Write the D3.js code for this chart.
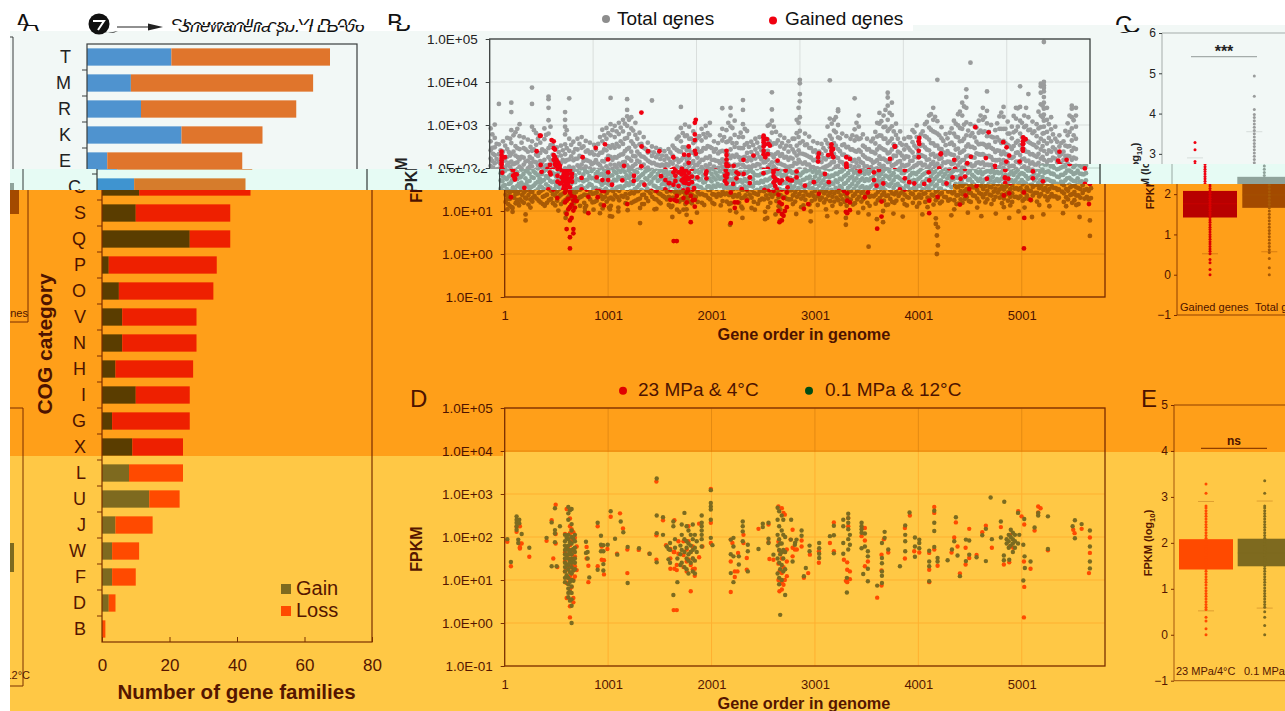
<!DOCTYPE html>
<html><head><meta charset="utf-8">
<script src="https://cdn.jsdelivr.net/npm/d3@7"></script>
<style>
html,body{margin:0;padding:0;background:#fff}
svg{display:block;font-family:"Liberation Sans",Arial,sans-serif}
</style></head><body><svg id="page" width="1285" height="711"></svg>
<script>
/* ---------- panel A ---------- */
const cogCategories=["T","M","R","K","E","C","S","Q","P","O","V","N","H","I","G","X","L","U","J","W","F","D","B"];
const cogGain=[25,13,16,28,6,11,10,26,2,5,6,6,4,10,3,9,8,14,4,3,3,2,0];
const cogLoss=[47,54,46,24,40,33,28,12,32,28,22,22,23,16,23,15,16,9,11,8,7,2,1];
const famTicks=[0,20,40,60,80];
/* ---------- panels B, D : rows are [gene order, log10(FPKM)*100 ...] ---------- */
const fpkmTicks=[1e5,1e4,1e3,1e2,1e1,1,0.1];
const geneTicks=[1,1001,2001,3001,4001,5001];
const totalRows=[
[10,292,262,241,222,205,188,171,152,138,121],[50,301,270,248,230,211,193,177,160,143,128,112],[90,349,255,232,214,198,180,163,146,131],[130,262,238,219,202,187,172,155,141,118],
[170,270,244,226,207,190,174,158,137,122],[210,352,330,288,258,233,215,196,180,166,148,129],[250,283,251,229,211,194,176,161,145,127,108],[290,302,274,244,220,203,187,170,153,135],
[330,271,246,224,208,192,177,159,142,124],[370,266,238,217,199,183,168,150,133,116],[410,387,349,296,262,240,222,204,186,170,155,138,119],[450,281,254,231,213,196,181,162,147,128],
[490,259,235,216,201,185,170,154,136,113],[530,292,267,240,219,202,186,168,151,134],[570,366,360,340,311,280,246,225,207,190,174,156,141,122],[610,253,231,214,198,182,165,150,131],
[650,248,226,208,193,179,161,147,129,110],[690,252,229,211,195,178,162,144,126],[730,330,312,296,278,255,232,215,199,183,167,150,132,112],[770,362,268,240,220,203,189,172,155,138,119],
[810,261,236,218,201,185,169,153,137],[850,268,243,222,206,190,173,157,140,120],[890,272,247,226,208,193,176,160,143,124],[930,263,238,219,203,186,171,154,136,115],
[970,259,234,215,199,184,168,150,133],[1010,254,231,212,196,181,165,148,129,108],[1050,256,230,210,195,179,163,146,127],[1090,289,262,236,216,199,183,167,150,132],
[1130,293,268,241,221,204,188,171,154,135],[1170,363,302,276,247,226,208,191,175,157,139,118],[1210,298,272,247,225,207,191,174,158,140],[1250,305,279,250,228,210,194,177,160,141,122],
[1290,312,285,256,232,213,197,180,163,146,127],[1330,360,335,320,298,270,244,224,206,190,173,155,137,116],[1370,318,292,262,238,217,200,183,167,149,130],[1410,305,277,250,227,209,192,176,159,141],
[1450,282,255,232,214,197,181,164,147,128],[1490,272,247,226,208,192,176,159,141,122],[1530,259,236,217,201,186,170,152,135],[1570,357,250,228,211,195,179,162,145,127],
[1610,247,225,208,193,178,161,146,128,109],[1650,243,221,205,190,175,158,143,125],[1690,239,219,204,189,173,156,141,122],[1730,244,222,206,191,176,160,144,126,103],
[1770,252,229,210,194,179,163,147,130],[1810,268,242,221,204,188,172,155,138,118],[1850,342,293,262,238,218,201,185,169,151,133],[1890,301,274,248,226,208,191,175,158,139],
[1930,296,268,244,223,205,189,172,156,137,114],[1970,285,258,235,216,199,183,166,149,130],[2010,269,245,224,207,190,174,157,139,119],[2050,291,264,239,219,202,186,169,152,133],
[2090,298,271,245,224,206,189,173,156,136,113],[2130,305,276,249,227,209,192,175,158,139],[2170,262,238,219,203,187,171,154,137,116],[2210,258,234,216,200,184,168,151,133],
[2250,339,291,264,240,220,203,187,170,153,134],[2290,288,260,236,217,200,184,167,150,130,110],[2330,340,322,297,268,243,223,205,189,172,155,136],[2370,310,277,249,226,208,191,174,157,138],
[2410,272,247,225,208,192,176,159,142,121],[2450,358,335,302,272,246,224,207,190,174,157,138,117],[2490,286,258,235,216,199,183,166,149,129],[2530,261,237,218,202,186,170,153,136],
[2570,268,243,222,205,189,173,156,139,119],[2610,272,248,226,208,192,175,158,140],[2650,254,231,213,197,182,166,149,132,111],[2690,298,266,240,219,202,186,169,152,133],
[2730,376,336,310,282,254,231,213,197,181,164,147,128],[2770,284,257,233,215,198,182,165,148,127],[2810,276,250,228,210,193,177,160,143,122],[2850,270,245,224,206,190,174,157,139],
[2890,262,238,219,202,186,170,153,135,113],[2930,268,243,222,205,189,172,156,138],[2970,312,281,252,229,210,193,177,160,142,123],[3000,405,397,372,355,318,286,258,234,214,197,180,164,146,127],
[3050,280,253,231,213,196,180,163,146,126],[3090,273,247,226,208,192,175,159,141,120],[3130,262,238,218,202,187,171,154,136],[3170,258,234,216,199,183,167,150,133,112],
[3210,256,232,214,198,182,166,149,131],[3250,265,240,220,203,187,171,154,136,116],[3290,404,315,275,248,226,208,191,175,158,140,121],[3330,312,287,258,233,214,197,180,163,146,127],
[3370,336,332,300,271,244,223,205,188,171,154,135,115],[3410,280,253,231,213,196,180,163,146,127],[3450,274,248,227,209,192,176,159,142,122],[3490,268,243,222,205,188,172,155,138],
[3530,362,290,264,240,219,202,186,170,152,133,112],[3570,322,296,267,242,221,204,187,171,153,134],[3610,278,252,230,211,195,178,162,144,125],[3650,268,243,222,204,188,171,155,137],
[3690,262,238,218,202,186,170,153,135,114],[3730,284,257,234,215,198,182,165,148,128],[3770,328,303,276,250,227,209,192,175,158,139,119],[3810,322,295,268,243,222,205,188,171,154,135],
[3850,375,364,345,312,286,258,234,214,197,180,163,146,126],[3890,352,323,297,268,243,222,205,188,171,153,133,113],[3930,303,277,250,228,210,193,176,159,141],[3970,285,258,235,216,199,183,166,149,130],
[4010,268,243,222,204,188,172,155,138,118],[4050,272,247,226,208,191,175,158,140],[4090,288,260,236,217,200,184,167,150,131,109],[4130,299,272,246,225,207,190,174,157,138],
[4170,278,252,230,212,195,179,162,145,125],[4210,302,274,248,226,208,191,175,158,139,118],[4250,322,294,266,241,220,203,186,170,152,133],[4290,340,312,285,257,233,214,197,180,163,145,124],
[4330,405,309,280,252,229,210,193,176,160,141],[4370,295,269,244,223,205,189,172,155,136,116],[4410,279,253,231,212,196,179,163,146,127],[4450,282,256,233,214,197,181,164,147,128],
[4490,310,280,253,230,211,194,178,161,143,123],[4530,325,299,271,245,224,206,189,172,155,136],[4570,352,322,291,263,238,218,201,184,167,149,129,108],[4610,383,365,340,306,276,250,227,209,192,175,158,139],
[4650,445,302,275,249,227,209,192,175,158,140,120],[4690,298,271,246,224,206,190,173,156,138],[4730,310,282,255,232,213,196,179,163,145,126],[4770,340,312,283,256,232,213,196,179,162,143],
[4810,378,333,304,274,248,226,208,191,174,157,138,118],[4850,300,273,247,225,207,190,174,157,139],[4890,288,261,237,218,200,184,168,151,133,113],[4930,320,291,264,240,219,202,185,169,152,133],
[4970,342,319,291,263,238,218,200,184,167,150,130],[5010,308,280,254,231,212,195,178,162,144,124],[5050,296,269,244,223,205,188,172,155,136],[5090,340,315,287,259,235,215,198,181,164,146,125],
[5130,390,342,310,280,253,230,211,194,177,160,142],[5170,322,295,268,243,222,204,187,171,153,134,114],[5210,372,318,288,261,237,217,200,183,166,149],[5250,308,281,255,232,213,196,179,162,145,125],
[5290,302,274,248,226,208,191,174,158,139],[5330,396,390,375,348,322,295,268,243,222,204,187,170,153,134],[5360,493,400,392,386,378,365,352,338,324,310,296,281,263,240,219,201,185,168,150,131],[5390,340,312,284,257,233,214,197,180,163,145],
[5430,318,290,262,238,218,201,184,168,151,132,111],[5470,296,268,243,222,204,188,171,155,137],[5510,276,250,228,210,194,177,161,144,125],[5550,262,238,219,202,186,170,153,136,116],
[5590,304,276,250,228,210,193,176,160,142],[5630,345,338,318,292,264,240,219,202,186,169,151,133],[5670,340,322,296,268,244,222,205,188,171,153,130]
];
const totalRowsFill=[
[27,278,247,216,194,169,147,128,104],[34,233,201,180,158,134,116],[68,256,221,197,174,151,133,109],[107,241,208,184,165,139,118],[118,195,171,148,126],[151,252,217,199,176,149,127],[186,237,212,181,163,143,119],[199,268,229,203,178,155,131],[231,276,238,209,186,160,137,115],[268,291,246,213,192,168,144,122],[274,225,198,157,131],[309,259,226,199,179,156,129],[348,243,215,188,164,146,120],[388,226,203,176,157,135,112],[396,249,211,187,166],[429,288,243,215,193,172,151,125],[468,268,228,206,177,158,139,118],[508,243,212,189,167,145,124],[546,277,237,206,180,159,138,116],[589,296,253,219,194,169,148,126],[627,226,203,172,155,136,107],[668,237,214,186,158,139,118],[708,241,219,192,171,149,128],[746,288,246,218,196,174,153,134],[789,254,227,199,177,158,137,112],[828,244,221,193,172,146,127],
[869,256,228,202,181,163,141,121],[908,250,216,198,177,152,133],[948,241,217,191,170,149,128,106],[988,237,209,186,161,142,122],[1028,243,218,188,173,152,131,112],[1068,272,235,206,182,160,137],[1108,276,243,215,192,173,147,125],[1148,281,251,228,197,179,156,133],[1188,288,253,219,198,177,151,130],[1228,285,256,224,202,183,165,143,119],[1268,294,262,231,205,186,167,146,124],[1308,303,268,239,214,193,172,151,129],[1348,312,279,247,222,201,178,160,138,116],[1388,287,256,228,205,186,166,147,123],[1428,268,238,217,195,173,152,133],[1468,256,227,205,186,168,146,127,105],[1508,244,222,198,179,157,139,118],[1548,238,214,193,173,153,132],[1588,236,212,187,170,151,133,114],[1628,231,207,185,167,149,131],[1668,229,208,183,165,144,124,103],[1708,228,209,186,167,148,127],[1748,236,214,187,171,152,136,116],[1788,246,219,197,178,158,141,122],[1828,273,239,214,194,176,154,134],[1868,281,248,223,199,180,161,143,121],
[1908,276,241,217,197,178,159,140,119],[1948,268,236,211,192,174,155,136],[1988,262,230,207,185,168,149,127],[2028,274,237,213,195,176,157,138,116],[2068,279,246,219,197,178,159,140],[2108,281,251,223,201,182,163,144,123],[2148,246,219,198,178,160,141,122],[2188,244,217,196,176,158,139,118],[2228,276,238,211,192,174,156,137],[2268,272,239,214,195,176,158,139,119],[2308,305,262,231,209,188,169,150,131],[2348,293,258,229,204,185,166,147,127],[2388,258,231,206,188,169,150,131,107],[2428,282,246,218,197,178,159,140],[2468,291,254,226,203,184,165,146,125],[2508,249,224,203,183,165,146,127],[2548,253,228,206,186,167,148,129,109],[2588,259,234,209,190,171,152,133],[2628,241,220,198,178,160,142,123],[2668,268,238,214,193,174,156,137,115],[2708,301,262,232,207,188,169,151,132],[2748,296,257,225,204,184,167,148,127],
[2788,264,236,211,191,172,153,136,116],[2828,258,232,208,189,170,151,133],[2868,252,226,203,184,166,147,129,109],[2908,251,224,204,183,164,145,126],[2948,268,236,212,192,173,154,136,115],[2988,340,305,272,241,219,196,176,155,135],[3028,262,233,210,191,172,153,134,114],[3068,255,229,208,188,169,150,131],[3108,246,224,202,183,165,146,127,104],[3148,241,219,199,179,161,142,123],[3188,238,218,197,178,160,141,122],[3228,246,223,201,182,163,144,125],[3268,296,257,226,205,186,167,148,127],[3308,303,268,237,213,192,173,154,133,112],[3348,318,283,252,225,203,183,165,146,126],[3388,269,239,215,196,177,158,139,118],[3428,255,231,208,189,171,152,133],[3468,249,226,205,185,166,147,128,107],[3508,276,243,216,195,176,158,139,119],[3548,305,273,238,212,193,174,155,135],[3588,269,238,214,194,176,157,138,117],[3628,249,226,204,186,168,149,130],
[3668,244,221,199,180,162,143,124],[3708,268,237,212,192,174,155,136,115],[3748,305,273,243,218,199,180,161,141,121],[3788,309,275,246,221,202,183,164,144,124],[3828,335,296,268,241,218,198,179,160,141],[3868,328,291,262,236,214,195,176,157,138,116],[3908,285,255,229,207,188,169,150,131],[3948,268,238,214,195,176,157,139,119],[3988,254,229,207,188,170,151,132,110],[4028,253,227,206,186,168,149,131],[4068,271,241,216,196,178,159,141,121],[4108,283,252,226,205,187,168,149,129],[4148,261,233,211,191,173,154,136,115],[4188,285,254,228,206,187,168,149,130],[4228,307,271,243,219,199,180,161,142,122],[4268,325,289,258,231,209,190,171,152,132],[4308,319,283,252,226,205,186,167,147,127],[4348,276,245,221,201,182,163,144,125,104],[4388,263,236,213,193,174,156,137,117],[4428,269,239,215,195,177,158,139,119],[4468,292,259,231,209,189,170,151,132],[4508,303,273,243,219,199,180,161,142,121],
[4548,331,293,262,235,213,193,174,155,135],[4588,343,301,268,241,219,199,180,161,142,122],[4628,287,255,229,208,189,170,151,132],[4668,281,249,225,204,185,166,147,127],[4708,294,261,234,212,192,174,155,136,116],[4748,322,287,256,231,210,190,171,152,133],[4788,318,285,254,229,207,188,169,150,131],[4828,284,254,228,207,188,169,150,129,109],[4868,271,244,219,199,181,162,143,124],[4908,304,271,241,218,198,179,160,141,121],[4948,329,291,258,232,210,191,172,153,133],[4988,291,258,232,210,190,171,153,134],[5028,280,250,224,204,185,166,147,128,108],[5068,321,283,251,226,205,186,167,148,128],[5108,339,296,263,236,214,194,175,156,136],[5148,305,271,243,220,199,180,161,142,122],[5188,340,298,265,238,216,196,177,158,139],[5228,289,258,232,210,191,172,153,134],[5268,285,253,229,208,189,170,151,132,111],[5308,331,292,259,233,212,192,173,154,134],[5348,345,318,280,251,226,206,187,168,149,129],[5408,302,270,241,218,198,179,160,141,121],[5448,278,248,224,203,184,166,147,127],[5488,261,236,214,194,176,158,139,119],[5528,258,232,211,191,173,155,136,114],[5568,286,252,228,207,188,169,151,131],[5608,322,284,251,227,206,187,168,149,129],[5648,311,276,247,224,204,185,166,147,127]
];
const totalLow=[
[77,107,98],[140,113],[203,92,78],[520,101],[590,96,84],[777,99,107],[860,103],[922,95],[1019,88,104],[1040,87],[1100,99,108],[1190,102],[1310,72,107],[1450,104],[1622,86,112],[1690,98],[1760,91,104],[1860,96],[2180,68,101],[2240,97],[2300,84,106],[2420,103],[2519,81,98],[2540,84],[2620,92],[2665,78,104],[2820,93],[2960,76,99],[3120,88],[3210,97],[3300,84,68],[3420,96],[3520,17,92],[3600,81],[3660,74,100],[3760,94],[3850,87],[4040,92],[4170,70,83],[4180,0,43],[4190,20,62],[4320,90],[4480,96],[4610,88],[4750,94],[4880,84],[4970,99],[5100,86],[5210,92],[5400,95],[5560,86],[5660,42,78]
];
const redRows=[
[26,189],[61,132],[116,212,223],[148,225,185,176,173],[165,185],[239,154],[406,191],[455,239],[471,150],[494,275,207,185],[510,130],
[584,207,164,143,120],[600,265,124,93,58],[616,196,172,150,128,104],[632,243,225,209,181,143,109,78,39,13],[648,218,190,160,135,115,84],[665,211,169,124,101,58,48],[680,198,155,132,108],[697,178,123],
[793,177,150],[810,133,95],[900,225,132],[939,147,178],[961,113,146],[994,172],[1026,247],[1087,161],[1116,255],[1145,220],[1187,171,116],[1297,170],[1400,161],[1468,329,204,147],[1532,239],[1561,181],
[1603,150,126,172],[1635,30,165],[1642,239,165,126],[1665,135,123,30],[1681,190,161],[1730,158,130,190],[1761,171,143,120],[1777,225,190,148],[1800,74,165,135],[1820,178,150,125],[1839,110,126],[1881,153,231],[1913,178],[1994,312,233,186],
[2187,72,194,143],[2203,186],[2226,107,120],[2252,120],[2258,163],[2310,205,186],[2342,151,124],[2455,219],[2552,229,188],[2561,149],[2600,147],
[2648,271,189,138,100],[2658,74,168,120],[2681,267,116,93,78,150],[2697,256,89,130],[2710,252,100,165],[2729,171,143,109],[2765,194],[2785,217,175,155],[2807,171],[2826,171],[2872,192,178],[2894,105],[2936,116],[2952,159],
[3039,140,167],[3146,186],[3184,234,167],[3281,147],[3300,98],[3313,141,124,95],[3323,244,225],[3339,102,120],[3452,202],[3484,221,192,132],[3513,143],[3603,59],[3645,159,122,87],[3668,195],[3710,164],
[3871,150,221],[3919,250],[3961,167],[4010,164],[4106,124,95,163],[4155,270,256,171],[4187,133],[4322,164],[4348,199],[4364,234],[4380,178],[4403,115],[4458,175,136],[4493,219,151],[4564,158],[4619,211],[4654,226],[4712,175],
[4799,223],[4828,136],[4880,141],[4887,205,178],[4919,175],[4967,260],[4999,248],[5022,13,143],[5025,229,84],[5086,126],[5125,215],[5160,271,257],[5183,267],[5254,169],[5499,217],[5512,209],[5580,219],[5651,116],[5660,199,163]
];
const redExtraB=[
[116,238,230,218,208,200],[130,195,182],[486,275,190],[560,198,182,168],[600,195,178,166],[620,262,246,230,219,186,170,158],[640,205,192,180,172,165,152],[660,198,186,176,162],[680,205,195,172],[700,186,168],[1050,190,172],[1300,205,182],[1470,250],[1700,196,182,170],[1760,195,185],[1780,198,188,176,166],[1800,194,182,172],[1830,189,175,163],[1860,198,180,167],[1925,250,230,212],[1985,305,278,265,240],[2000,192,176],[2180,182,170],[2195,178,164],[2291,240,230,220,210,205,190,176],[2360,205,186],[2420,178,165],[2650,275,265,260,250,240,232,195,180,166],[2665,255,225,176,158],[2690,232,198,172],[3177,225,215],[3274,230],[3306,255,248,240,232],[3450,225,210,205],[3620,190,172],[3918,250,195,176],[4150,262,240,225,190],[4362,232],[4500,198,180],[4697,295],[4826,283],[4890,195,176,165],[4997,215],[5157,262,255,245,240,192,176],[5511,238]
];
const oliveRows=[
[26,195],[61,142],[116,248,240,233,225,217],[132,194,186],[142,240,232],[165,207],[239,175],[406,198],[455,234,132],[487,267,216,208,188],[503,132],[535,225],
[584,205,190,180,170,160,150,140,130,120,105,95],[600,198,176,158,137,111],[616,270,255,240,205,195,180,170,160,150,135,125,105,90,80,70,60],[632,262,188,164,143,118,96,72,52],[648,265,230,215,200,185,170,160,150,140,130,115,100,85,70,55,40,0],[665,196,172,148,122,98],[680,205,190,175,165,150,140,125],
[787,189,163],[803,165,150],[819,106],[900,233,124],[932,203,182,167],[955,181,167,137,122],[997,182],[1026,260],[1068,196],[1090,159],[1123,236],[1148,211],[1190,177,93],[1300,174],[1403,161],[1471,336,250,209,141],[1532,246,205],
[1568,178],[1585,172,148],[1600,186,170,140],[1632,236,225,65],[1648,195,175],[1671,95,150],[1700,180,160,135],[1713,229,205,170,140],[1739,256,195,165,130],[1760,225,190,175,150,125],[1778,215,185,160,145,115],[1800,205,180,165,140],[1820,229,195,170,150,120],[1840,205,175,145,115],[1858,190,165],
[1906,250,233,225,215,205,195,178],[1994,309,279,271,264,240,198],[2010,181],[2187,194,160,116],[2213,198,178,155,95],[2265,155,136],[2303,236,225,213,190],[2352,182,167,120],[2455,172],[2497,231,223],[2552,233,196,186],[2600,159],
[2640,268,240,205,180,150,115],[2655,260,225,195,170,140,105,90],[2665,19,185,160,125],[2680,250,215,185,165,135,100],[2695,240,205,170,150,120],[2713,65,200,165,125],[2771,240],[2768,194],[2807,182],[2823,194],[2785,143],[2810,187],[2872,215,203],[2894,109],[2913,128],[2949,180,167],
[3042,186,174,161,151],[3146,202],[3184,226,204,162],[3275,240,225,186,161],[3310,71,105],[3323,254,244,233,218,195,171],[3339,205,182],[3452,233,225,218,210,174],[3468,114],[3484,208,178],[3513,167,155,126,97],[3603,87],[3649,186,151,139,120,110,93],[3675,212,198],[3710,171],[3823,132],
[3874,227,205,190,167],[3916,257],[3968,199,178,154],[4010,194,186,174],[4106,168,143,132,97],[4155,261,233,214,177],[4187,151,143],[4284,146],[4326,171],[4348,190],[4364,246],[4380,157],[4403,109],[4461,194,144],[4493,192,159],[4564,153],[4619,204],[4654,219,144],[4712,195],[4700,292],
[4832,282],[4799,236,199],[4828,146,157],[4880,147],[4855,195,185],[4875,205,190,175],[4895,217,200,180],[4915,210,195,185,165],[4935,205,190,175],[4965,256,185],[4977,205],[5025,242],[5016,182,99],[5028,155],[5031,128],[5086,143],[5125,222],[5160,250,256],[5254,172,248],[5493,225],[5515,239,197],[5580,230],[5660,215,178,143,127]
];
/* ---------- panels C, E : log10(FPKM) ---------- */
const cGainedDots=[0,.13,.3,.38,.52,.58,.64,.7,.76,.82,.88,.94,1,1.06,1.12,1.18,1.24,1.3,1.36,1.42,1.48,1.54,1.6,1.66,1.72,1.78,1.84,1.9,1.96,2.02,2.08,2.14,2.2,2.26,2.32,2.38,2.44,2.5,2.56,2.62,2.68,2.74,2.81,3.1,3.28];
const cTotalDots=[0,.17,.4,.55,.62,.7,.78,.86,.94,1.02,1.1,1.18,1.26,1.34,1.42,1.5,1.58,1.66,1.74,1.82,1.9,1.98,2.06,2.14,2.22,2.3,2.38,2.46,2.54,2.62,2.7,2.78,2.86,2.94,3.02,3.1,3.18,3.26,3.34,3.42,3.5,3.58,3.66,3.74,3.82,3.9,3.98,4.1,4.43,4.93];
const eHighDots=[0,.13,.3,.38,.55,.6,.66,.72,.78,.84,.9,.96,1.02,1.08,1.14,1.2,1.26,1.32,1.38,1.44,1.5,1.56,1.62,1.68,1.74,1.8,1.86,1.92,1.98,2.04,2.1,2.16,2.22,2.28,2.34,2.4,2.46,2.52,2.58,2.64,2.7,2.76,2.8,3.08,3.28];
const eLowDots=[0,.2,.38,.5,.6,.66,.72,.78,.84,.9,.96,1.02,1.08,1.14,1.2,1.26,1.32,1.38,1.44,1.5,1.56,1.62,1.68,1.74,1.8,1.86,1.92,1.98,2.04,2.1,2.16,2.22,2.28,2.34,2.4,2.46,2.52,2.58,2.64,2.7,2.76,2.8,3.08,3.35];
const cBoxGained=[.52,1.42,1.76,2.08,2.9], cBoxTotal=[.57,1.66,1.98,2.43,3.55];
const eBoxHigh=[.52,1.42,1.76,2.08,2.9], eBoxLow=[.58,1.49,1.78,2.09,2.91];

const svg=d3.select("#page");
const palettes={
 white:{bg:"#ffffff",ink:"#111111",axis:"#333333",axisSoft:"#888888",grid:"#dddddd",gain:"#4f93cf",loss:"#e0752c",grey:"#8d8d8d",red:"#f00010",redBox:"#c00",greyBox:"#8fa39b",serA:"#e00000",serB:"#004d14"},
 pale:{bg:"#f2f8f6",ink:"#222222",axis:"#3a3f3e",axisSoft:"#a5acaa",grid:"#d9dedc",gain:"#4f93cf",loss:"#e0752c",grey:"#9a9c9c",red:"#f00010",redBox:"#c00",greyBox:"#8fa39b",serA:"#e00000",serB:"#004d14"},
 mint:{bg:"#e6fbf4",ink:"#222222",axis:"#333b38",axisSoft:"#98a8a2",grid:"#b9cfc6",gain:"#3f94d0",loss:"#d67c2c",grey:"#8fa39b",red:"#f00010",redBox:"#c00",greyBox:"#8fa39b",serA:"#e00000",serB:"#004d14"},
 orange:{bg:"#ff9f19",ink:"#4d1300",axis:"#7a2c00",axisSoft:"#8f3f00",grid:"#e48a12",gain:"#5a3d00",loss:"#ee2000",grey:"#a85a05",red:"#dc0000",redBox:"#b80000",greyBox:"#a34a00",serA:"#e00000",serB:"#004d14"},
 yellow:{bg:"#ffc845",ink:"#551600",axis:"#7a3000",axisSoft:"#a5560c",grid:"#ffb030",gain:"#7e6a1f",loss:"#ff4a00",grey:"#a85a05",red:"#ff4a00",redBox:"#b80000",greyBox:"#a34a00",serA:"#ff4a00",serB:"#7b6b20"}
};
const cssVars=p=>Object.entries(p).map(([k,v])=>`--${k}:${v}`).join(";");
const bandEdges=[[[913,31],[1285,25]],[[1040,169],[1285,164]],[[953,190],[1285,184]],[[503,456],[1285,452]]];
const stepLine=e=>{const pts=[];let x0=10;e.forEach(([x,y])=>{pts.push([x0,y],[x,y]);x0=x;});return pts;};
const flatEdge=y=>[[1285,y]];
const glitchBottom=[[1145,32],[1285,25]];
const stripDefs=[
 {id:"yellow",top:bandEdges[3],bottom:flatEdge(711),dx:0},
 {id:"orange",top:bandEdges[2],bottom:bandEdges[3],dx:0},
 {id:"mint",top:bandEdges[1],bottom:bandEdges[2],dx:-5},
 {id:"pale",top:bandEdges[0],bottom:bandEdges[1],contentTop:glitchBottom,dx:-15},
 {id:"white",top:flatEdge(0),bottom:bandEdges[0],contentBottom:flatEdge(25),dx:-15}
];
const defs=svg.append("defs");
const addClip=(id,top,bottom)=>defs.append("clipPath").attr("id",id).append("polygon").attr("points",stepLine(top).concat(stepLine(bottom).reverse()).join(" "));
stripDefs.forEach(s=>{
  addClip("clip-"+s.id,s.top,s.bottom);
  addClip("content-"+s.id,s.contentTop||s.top,s.contentBottom||s.bottom);
});
addClip("content-glitch",flatEdge(25),glitchBottom);

/* background bands */
stripDefs.forEach(s=>{
  svg.append("rect").attr("x",0).attr("y",0).attr("width",1285).attr("height",711)
   .attr("clip-path",`url(#clip-${s.id})`).style("fill",palettes[s.id].bg);
});

/* the chart itself, in the coordinates of the lowest strips */
const wrap=svg.append("g").attr("clip-path","url(#content-yellow)").attr("style",cssVars(palettes.yellow));
const chart=wrap.append("g").attr("id","chart");

const label=(t,x,y,size,o={})=>{
  const n=chart.append("text").attr("x",x).attr("y",y).attr("font-size",size).style("fill","var(--ink)")
    .attr("font-weight",o.bold?"bold":"normal").attr("font-style",o.italic?"italic":"normal").attr("text-anchor",o.anchor||"start");
  if(o.rot!==undefined)n.attr("transform",`rotate(${o.rot} ${x} ${y})`);
  if(o.sub){n.append("tspan").text(t);n.append("tspan").attr("font-size",size*.7).attr("dy",size*.25).text(o.sub);n.append("tspan").attr("dy",-size*.25).text(o.after);}
  else n.text(t);
  return n;
};
const styleAxis=(g,fs)=>{
  g.style("color","var(--ink)").attr("font-family","inherit").attr("font-size",fs);
  g.selectAll("path").remove();
  g.selectAll("line").style("stroke","var(--axis)");
};

/* ---- left remnants of the neighbouring figure ---- */
[[0,37,28,37],[28,37,28,322],[0,322,28,322],[0,408,23,408],[23,408,23,686],[0,686,23,686]].forEach(l=>
  chart.append("line").attr("x1",l[0]).attr("y1",l[1]).attr("x2",l[2]).attr("y2",l[3]).style("stroke","var(--axis)"));
chart.append("rect").attr("x",0).attr("y",183).attr("width",19).attr("height",31).style("fill","var(--greyBox)");
chart.append("rect").attr("x",0).attr("y",543).attr("width",14).attr("height",29).style("fill","var(--gain)");
label("genes",28,317,11,{anchor:"end"});
label("12°C",30,679,11,{anchor:"end"});

/* ---- panel A ---- */
const ax=d3.scaleLinear().domain([0,80]).range([102,372]);
const ay=d3.scaleBand().domain(cogCategories).range([44,642]).paddingInner(.335).paddingOuter(.1675);
const rowEdges=cogCategories.slice(1).map(c=>ay(c)-ay.step()*.1675);
chart.append("g").selectAll("line").data(rowEdges).join("line").attr("x1",97).attr("x2",102).attr("y1",d=>d).attr("y2",d=>d).style("stroke","var(--axis)");
const rows=cogCategories.map((c,i)=>({c,g:cogGain[i],l:cogLoss[i]}));
chart.append("g").selectAll("rect").data(rows).join("rect").attr("x",ax(0)).attr("y",d=>ay(d.c)).attr("height",ay.bandwidth())
  .attr("width",d=>ax(d.g)-ax(0)).style("fill","var(--gain)");
chart.append("g").selectAll("rect").data(rows).join("rect").attr("x",d=>ax(d.g)).attr("y",d=>ay(d.c)).attr("height",ay.bandwidth())
  .attr("width",d=>ax(d.g+d.l)-ax(d.g)).style("fill","var(--loss)");
chart.append("rect").attr("x",102).attr("y",44).attr("width",270).attr("height",598).style("fill","none").style("stroke","var(--axis)").style("stroke-width",1.2);
chart.append("g").attr("transform","translate(102,0)").call(d3.axisLeft(ay).tickSize(0).tickPadding(16)).call(g=>styleAxis(g,18));
chart.append("g").attr("transform","translate(0,642)").call(d3.axisBottom(ax).tickValues(famTicks).tickSize(-5).tickPadding(17)).call(g=>styleAxis(g,17));
label("COG category",52,344,21,{bold:true,anchor:"middle",rot:-90});
label("Number of gene families",236.5,699,20.5,{bold:true,anchor:"middle"});
[["Gain","var(--gain)",584],["Loss","var(--loss)",606]].forEach(([t,c,y],i)=>{
  chart.append("rect").attr("x",281).attr("y",y).attr("width",10).attr("height",10).style("fill",c);
  label(t,296,i?617:595,20);
});

/* ---- panels B and D ---- */
const gx=d3.scaleLinear().domain([1,5806]).range([504.7,1105]);
const logFmt=d=>{const e=Math.round(Math.log10(d));return "1.0E"+(e<0?"-":"+")+String(Math.abs(e)).padStart(2,"0");};
const flat=rows=>rows.flatMap(r=>r.slice(1).map(v=>({g:r[0],v})));
function scatterFrame(top,bottom){
  const y=d3.scaleLog().domain([.1,1e5]).range([bottom,top]);
  const g=chart.append("g");
  g.selectAll("line.h").data(fpkmTicks).join("line").attr("class","h").attr("x1",504.7).attr("x2",1105).attr("y1",y).attr("y2",y).style("stroke","var(--grid)");
  g.selectAll("line.v").data(geneTicks.slice(1)).join("line").attr("class","v").attr("y1",top).attr("y2",bottom).attr("x1",gx).attr("x2",gx).style("stroke","var(--grid)");
  return y;
}
function scatterAxes(y,top,bottom){
  chart.append("rect").attr("x",504.7).attr("y",top).attr("width",600.3).attr("height",bottom-top).style("fill","none").style("stroke","var(--axis)").style("stroke-width",1.3);
  chart.append("g").attr("transform","translate(504.7,0)").call(d3.axisLeft(y).tickValues(fpkmTicks).tickFormat(logFmt).tickSize(4).tickPadding(8)).call(g=>styleAxis(g,13.5));
  chart.append("g").attr("transform",`translate(0,${bottom})`).call(d3.axisBottom(gx).tickValues(geneTicks).tickFormat(d3.format("d")).tickSize(0).tickPadding(14)).call(g=>styleAxis(g,13));
  label("FPKM",422,(top+bottom)/2+12,16,{bold:true,anchor:"middle",rot:-90});
  label("Gene order in genome",804,bottom+43,16.3,{bold:true,anchor:"middle"});
}
const val=v=>Math.pow(10,v/100);
const byB=scatterFrame(39,297);
chart.append("g").selectAll("circle").data(flat(totalRows).concat(flat(totalRowsFill),flat(totalLow))).join("circle").attr("cx",d=>gx(d.g)).attr("cy",d=>byB(val(d.v))).attr("r",2.4).style("fill","var(--grey)");
chart.append("g").selectAll("circle").data(flat(redRows).concat(flat(redExtraB))).join("circle").attr("cx",d=>gx(d.g)).attr("cy",d=>byB(val(d.v))).attr("r",2.4).style("fill","var(--red)");
scatterAxes(byB,39,297);
const byD=scatterFrame(408,666);
chart.append("g").selectAll("circle").data(flat(redRows)).join("circle").attr("cx",d=>gx(d.g)).attr("cy",d=>byD(val(d.v))).attr("r",2.2).style("fill","var(--serA)");
chart.append("g").selectAll("circle").data(flat(oliveRows)).join("circle").attr("cx",d=>gx(d.g)).attr("cy",d=>byD(val(d.v))).attr("r",2.2).style("fill","var(--serB)");
scatterAxes(byD,408,666);
chart.append("circle").attr("cx",621).attr("cy",19).attr("r",4).style("fill","var(--grey)");
label("Total genes",632,25,19);
chart.append("circle").attr("cx",788).attr("cy",20.5).attr("r",4).style("fill","var(--red)");
label("Gained genes",800,25,19);
chart.append("circle").attr("cx",623).attr("cy",390.7).attr("r",4).style("fill","var(--serA)");
label("23 MPa & 4°C",638,396,19);
chart.append("circle").attr("cx",809).attr("cy",390.7).attr("r",4).style("fill","var(--serB)");
label("0.1 MPa & 12°C",825,396,19);

/* ---- panels C and E ---- */
function boxPanel(y,frameX,series,title,titleY,lineY,lineX1,lineX2,axisLabelX,axisLabelY){
  const top=y(y.domain()[1]),bottom=y(y.domain()[0]);
  chart.append("path").attr("d",`M1320,${top}H${frameX}V${bottom}H1320`).style("fill","none").style("stroke","var(--axisSoft)");
  chart.append("g").attr("transform",`translate(${frameX},0)`).call(d3.axisLeft(y).ticks(7).tickFormat(d3.format("d")).tickSize(3).tickPadding(3)).call(g=>styleAxis(g,12));
  series.forEach(s=>{
    const [lo,q1,med,q3,hi]=s.box, w=54;
    const g=chart.append("g");
    g.append("rect").attr("x",s.cx-w/2).attr("y",y(q3)).attr("width",w).attr("height",y(q1)-y(q3)).style("fill",s.boxFill);
    g.append("line").attr("x1",s.cx-w/2).attr("x2",s.cx+w/2).attr("y1",y(med)).attr("y2",y(med)).style("stroke",s.dotFill).style("opacity",.45);
    [lo,hi].forEach(v=>g.append("line").attr("x1",s.cx-8).attr("x2",s.cx+8).attr("y1",y(v)).attr("y2",y(v)).style("stroke","var(--axisSoft)").style("opacity",.35));
    g.selectAll("circle").data(s.dots).join("circle").attr("cx",s.cx).attr("cy",y).attr("r",1.5).style("fill",s.dotFill);
    label(s.name,s.tx,s.ty,11);
  });
  chart.append("line").attr("x1",lineX1).attr("x2",lineX2).attr("y1",lineY).attr("y2",lineY).style("stroke","var(--axisSoft)").style("stroke-width",1.3);
  label(title,(lineX1+lineX2)/2,titleY,title==="ns"?12:16,{bold:true,anchor:"middle"});
  label("FPKM (log",axisLabelX,axisLabelY,11,{bold:true,anchor:"middle",rot:-90,sub:"10",after:")"});
}
const cy=d3.scaleLinear().domain([-1,6]).range([315,33]);
boxPanel(cy,1177,[
 {name:"Gained genes",cx:1210,box:cBoxGained,dots:cGainedDots,boxFill:"var(--redBox)",dotFill:"var(--red)",tx:1180,ty:311},
 {name:"Total genes",cx:1269.3,box:cBoxTotal,dots:cTotalDots,boxFill:"var(--greyBox)",dotFill:"var(--grey)",tx:1255,ty:311}
],"***",57,56.7,1206,1272,1154,176);
const ey=d3.scaleLinear().domain([-1,5]).range([680.7,405]);
boxPanel(ey,1174,[
 {name:"23 MPa/4°C",cx:1206,box:eBoxHigh,dots:eHighDots,boxFill:"var(--loss)",dotFill:"var(--loss)",tx:1176,ty:675},
 {name:"0.1 MPa/12°C",cx:1264.7,box:eBoxLow,dots:eLowDots,boxFill:"var(--gain)",dotFill:"var(--gain)",tx:1244,ty:675}
],"ns",445,448.3,1201,1267,1152,543);

/* ---- panel letters and the organism title ---- */
label("A",30,31,24);label("B",402,31,24);label("C",1130,33,24);
label("D",410,407,24);label("E",1141,407,24);
label("Shewanella sp. YLB-06",185,32,18,{italic:true});

/* the other strips show the same chart, shifted and recoloured */
stripDefs.filter(s=>s.id!=="yellow").forEach(s=>{
  svg.append("g").attr("clip-path",`url(#content-${s.id})`).attr("style",cssVars(palettes[s.id]))
     .append("use").attr("href","#chart").attr("x",s.dx);
});
svg.append("g").attr("clip-path","url(#content-glitch)").attr("style",cssVars(palettes.white))
   .append("use").attr("href","#chart").attr("x",-7);

/* organism icon and arrow */
const icon=svg.append("g");
icon.append("circle").attr("cx",99).attr("cy",24).attr("r",10.5).style("fill","#111");
icon.append("path").attr("d","M100,30 A12,7 0 0 0 118,31 L108,33 Z").style("fill","#111");
icon.append("path").attr("d","M93,21 H104 L98,30").style("fill","none").style("stroke","#fff").style("stroke-width",2);
icon.append("line").attr("x1",117).attr("x2",150).attr("y1",27).attr("y2",27).style("stroke","#222").style("stroke-width",1.2);
icon.append("path").attr("d","M148,23.5 L163,27 L148,30.5 Z").style("fill","#222");
</script></body></html>
